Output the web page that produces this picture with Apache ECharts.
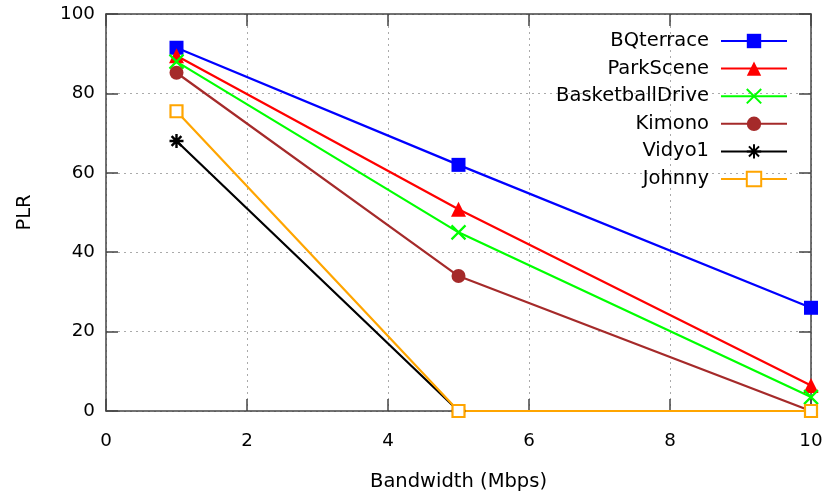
<!DOCTYPE html>
<html>
<head>
<meta charset="utf-8">
<script src="https://cdn.jsdelivr.net/npm/echarts@6/dist/echarts.min.js"></script>
<style>html,body{margin:0;padding:0;background:#fff;overflow:hidden;}#c{width:827px;height:497px;}</style>
</head>
<body>
<div id="c"></div>
<script>
const xValues = [1, 5, 10];
const seriesNames = ['BQterrace', 'ParkScene', 'BasketballDrive', 'Kimono', 'Vidyo1', 'Johnny'];
const bqterrace = [91.5, 62, 26];
const parkScene = [89.5, 50.8, 6.4];
const basketballDrive = [88, 45, 3.5];
const kimono = [85.2, 34, 0];
const vidyo1 = [68, 0, 0];
const johnny = [75.5, 0, 0];
const xTicks = [0, 2, 4, 6, 8, 10];
const yTicks = [0, 20, 40, 60, 80, 100];

const FONT = 'DejaVu Sans';
const FS = 19.5;
const TFS = 18.3;
const axisColor = '#444';

function pairs(vals) { return xValues.map((x, i) => [x, vals[i]]); }

const crossPath = 'path://M0,0L10,10M10,0L0,10';
const starPath = 'path://M5,0L5,10M0,5L10,5M1.5,1.5L8.5,8.5M8.5,1.5L1.5,8.5';

function mk(name, vals, color, symbol, size, extra) {
  return Object.assign({
    name: name,
    type: 'line',
    data: pairs(vals),
    symbol: symbol,
    symbolSize: size,
    showAllSymbol: true,
    lineStyle: { color: color, width: 2.2 },
    itemStyle: { color: color },
    emphasis: { disabled: true },
    animation: false,
    z: 3
  }, extra || {});
}

const series = [
  mk(seriesNames[0], bqterrace, '#0000ff', 'rect', 14),
  mk(seriesNames[1], parkScene, '#ff0000', 'triangle', 15),
  mk(seriesNames[2], basketballDrive, '#00ff00', crossPath, 14, { itemStyle: { color: 'none', borderColor: '#00ff00', borderWidth: 2.2 } }),
  mk(seriesNames[3], kimono, '#a52a2a', 'circle', 14),
  mk(seriesNames[4], vidyo1, '#000000', starPath, 14, { itemStyle: { color: 'none', borderColor: '#000000', borderWidth: 2.4 } }),
  mk(seriesNames[5], johnny, '#ffa500', 'rect', 12, { itemStyle: { color: '#ffffff', borderColor: '#ffa500', borderWidth: 2.2 } })
];

const chart = echarts.init(document.getElementById('c'), null, { renderer: 'canvas' });
const gridLine = { show: true, lineStyle: { color: '#aaaaaa', type: [2, 4], width: 1 } };
chart.setOption({
  animation: false,
  textStyle: { fontFamily: FONT },
  grid: { left: 106, right: 16, top: 14, bottom: 84, containLabel: false },
  legend: {
    data: seriesNames,
    orient: 'vertical',
    right: 39,
    top: 31,
    align: 'right',
    itemWidth: 66,
    itemHeight: 18,
    itemGap: 7.6,
    padding: 0,
    textStyle: { fontFamily: FONT, fontSize: FS, lineHeight: 20, color: '#000', padding: [0, 7, 0, 0] },
    selectedMode: false
  },
  xAxis: [{
    type: 'value', min: xTicks[0], max: xTicks[xTicks.length - 1], interval: 2,
    name: 'Bandwidth (Mbps)', nameLocation: 'middle', nameGap: 61,
    nameTextStyle: { fontFamily: FONT, fontSize: FS, color: '#000' },
    axisLine: { show: true, onZero: false, lineStyle: { color: axisColor, width: 1.5 } },
    axisTick: { show: true, inside: true, length: 12, lineStyle: { color: axisColor, width: 1.5 } },
    axisLabel: { fontFamily: FONT, fontSize: TFS, color: '#000', margin: 21 },
    splitLine: gridLine
  }, {
    type: 'value', position: 'top', min: xTicks[0], max: xTicks[xTicks.length - 1], interval: 2,
    axisLine: { show: true, onZero: false, lineStyle: { color: axisColor, width: 1.5 } },
    axisTick: { show: true, inside: true, length: 12, lineStyle: { color: axisColor, width: 1.5 } },
    axisLabel: { show: false }, splitLine: { show: false }
  }],
  yAxis: [{
    type: 'value', min: yTicks[0], max: yTicks[yTicks.length - 1], interval: 20,
    name: 'PLR', nameLocation: 'middle', nameGap: 71, nameRotate: 90,
    nameTextStyle: { fontFamily: FONT, fontSize: FS, color: '#000' },
    axisLine: { show: true, onZero: false, lineStyle: { color: axisColor, width: 1.5 } },
    axisTick: { show: true, inside: true, length: 12, lineStyle: { color: axisColor, width: 1.5 } },
    axisLabel: { fontFamily: FONT, fontSize: TFS, color: '#000', margin: 11 },
    splitLine: gridLine
  }, {
    type: 'value', position: 'right', min: yTicks[0], max: yTicks[yTicks.length - 1], interval: 20,
    axisLine: { show: true, onZero: false, lineStyle: { color: axisColor, width: 1.5 } },
    axisTick: { show: true, inside: true, length: 12, lineStyle: { color: axisColor, width: 1.5 } },
    axisLabel: { show: false }, splitLine: { show: false }
  }],
  series: series
});
</script>
</body>
</html>
